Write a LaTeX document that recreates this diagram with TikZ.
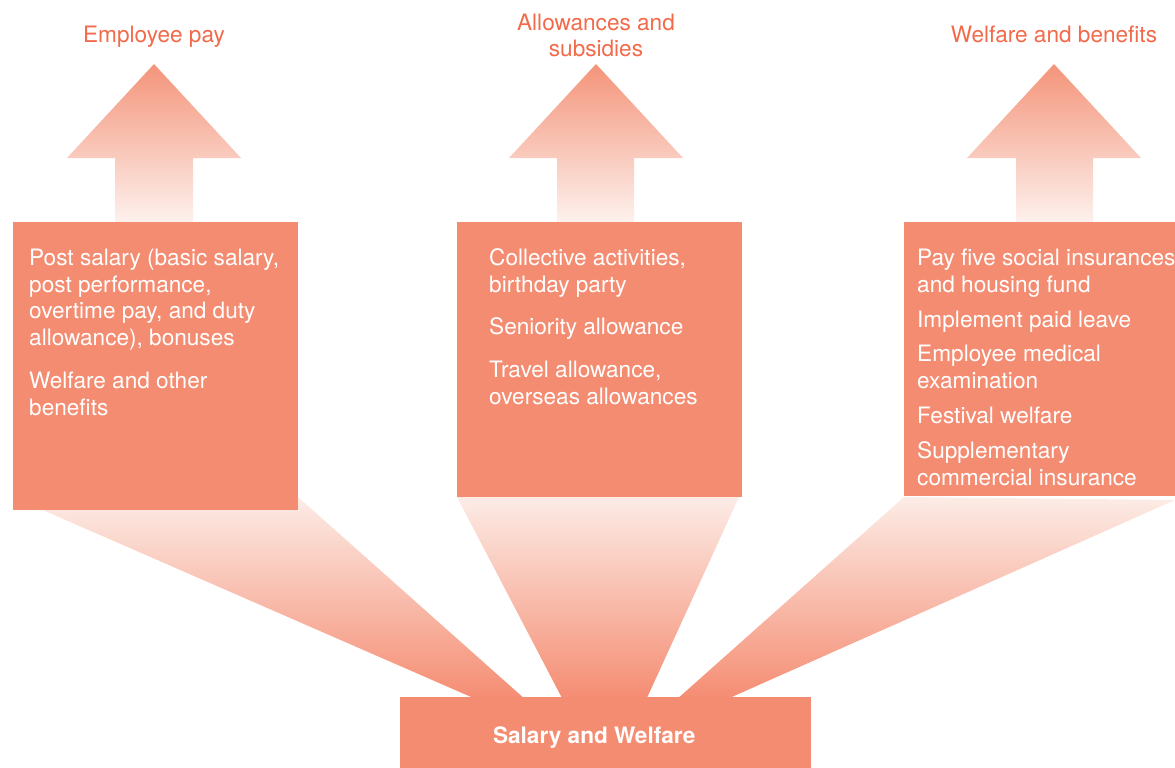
\documentclass[tikz,border=0pt]{standalone}
\usepackage{fontspec}
\setmainfont{TeX Gyre Heros}
\definecolor{boxc}{RGB}{244,140,114}
\definecolor{titlec}{RGB}{242,106,74}
\definecolor{arrtop}{RGB}{244,148,122}
\definecolor{arrbot}{RGB}{253,241,237}
\definecolor{fantop}{RGB}{252,236,230}
\definecolor{fanbot}{RGB}{245,140,114}
\begin{document}
\begin{tikzpicture}[x=1pt,y=-1pt,
  boxstyle/.style={fill=boxc, draw=none, inner sep=0pt, anchor=north west},
  itemtext/.style={anchor=base west, text=white, inner sep=0pt, font=\fontsize{22.6}{27}\selectfont},
  titletext/.style={anchor=base, text=titlec, inner sep=0pt, font=\fontsize{22.6}{27}\selectfont},
  arrowshade/.style={top color=arrtop, bottom color=arrbot, draw=none},
  fanshade/.style={top color=fantop, bottom color=fanbot, draw=none}]
\useasboundingbox (0,0) rectangle (1175,768);

% fans from the central box to the three boxes
\shade[fanshade] (13,497) -- (298,497) -- (526,700) -- (478,700) -- cycle;
\shade[fanshade] (457,497) -- (739,497) -- (646,700) -- (563,700) -- cycle;
\shade[fanshade] (904,497) -- (1175,500) -- (725,700) -- (676,700) -- cycle;

% upward arrows
\shade[arrowshade] (154,64) -- (241,158) -- (193,158) -- (193,222) -- (115,222) -- (115,158) -- (67,158) -- cycle;
\shade[arrowshade] (596,64) -- (683,158) -- (634,158) -- (634,222) -- (557,222) -- (557,158) -- (509,158) -- cycle;
\shade[arrowshade] (1054,64) -- (1141,158) -- (1093,158) -- (1093,222) -- (1016,222) -- (1016,158) -- (967,158) -- cycle;

% boxes
\node[boxstyle, minimum width=285pt, minimum height=288pt] (lbox) at (13,222) {};
\node[boxstyle, minimum width=285pt, minimum height=275pt] (mbox) at (457,222) {};
\node[boxstyle, minimum width=271pt, minimum height=274pt] (rbox) at (904,222) {};
\node[boxstyle, minimum width=411pt, minimum height=71pt, text=white,
      font=\fontsize{22.6}{27}\selectfont\bfseries, text height=25pt, text depth=4pt] (base) at (400,697) {\hspace*{-23pt}Salary and Welfare};

% titles
\node[titletext] (t1) at (154,43) {Employee pay};
\node[titletext] (t2a) at (596,31) {Allowances and};
\node[titletext] (t2b) at (596,57) {subsidies};
\node[titletext] (t3) at (1054,43) {Welfare and benefits};

% box texts
\foreach \yy/\tt [count=\i] in {265/{Post salary (basic salary,}, 292/{post performance,}, 318/{overtime pay, and duty}, 345/{allowance), bonuses}, 388/{Welfare and other}, 415/{benefits}}
  \node[itemtext] (L\i) at (29,\yy) {\tt};
\foreach \yy/\tt [count=\i] in {265/{Collective activities,}, 292/{birthday party}, 334/{Seniority allowance}, 377/{Travel allowance,}, 404/{overseas allowances}}
  \node[itemtext] (M\i) at (489,\yy) {\tt};
\foreach \yy/\tt [count=\i] in {265/{Pay five social insurances}, 292/{and housing fund}, 327/{Implement paid leave}, 361/{Employee medical}, 388/{examination}, 423/{Festival welfare}, 458/{Supplementary}, 485/{commercial insurance}}
  \node[itemtext] (R\i) at (917,\yy) {\tt};
\end{tikzpicture}
\end{document}
